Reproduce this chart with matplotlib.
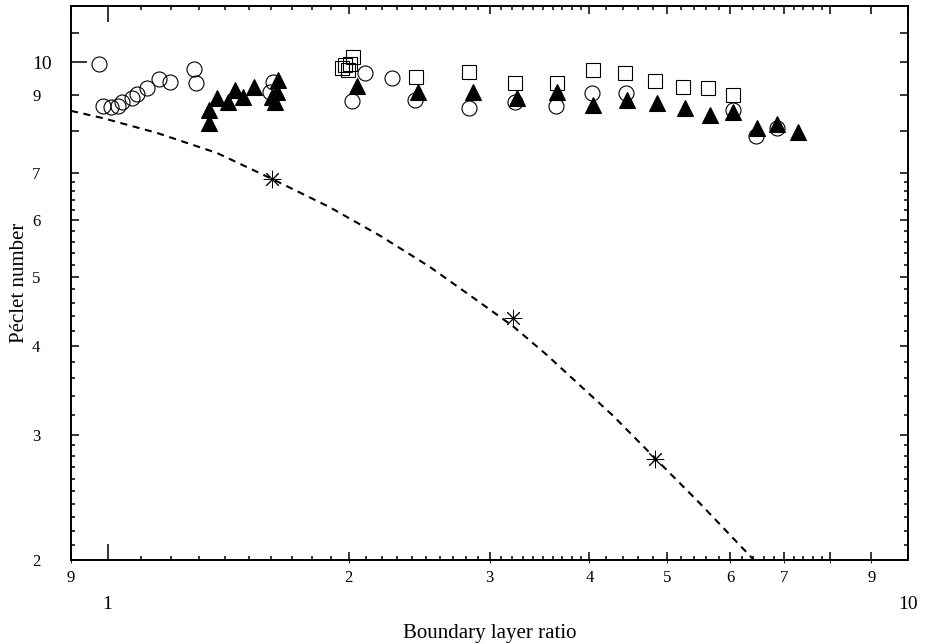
import numpy as np
import matplotlib
matplotlib.use("Agg")
import matplotlib.pyplot as plt

plt.rcParams['font.family'] = ['Liberation Serif', 'DejaVu Serif']

# Open circles
circ_x = [0.976, 0.987, 1.010, 1.031, 1.042, 1.073, 1.088, 1.120, 1.159, 1.196,
          1.282, 1.290, 1.609, 1.596, 2.020, 2.096, 2.266, 2.421, 2.830, 3.228,
          3.632, 4.029, 4.442, 6.04, 6.46, 6.86]
circ_y = [9.95, 8.68, 8.66, 8.68, 8.80, 8.91, 9.03, 9.21, 9.48, 9.38,
          9.79, 9.35, 9.38, 9.09, 8.83, 9.66, 9.51, 8.86, 8.63, 8.80,
          8.68, 9.06, 9.06, 8.57, 7.88, 8.09]

# Open squares
sq_x = [2.025, 1.963, 1.980, 1.997, 2.010, 2.428, 2.830, 3.228, 3.643, 4.040,
        4.43, 4.83, 5.235, 5.625, 6.04]
sq_y = [10.18, 9.82, 9.92, 9.76, 9.95, 9.54, 9.69, 9.35, 9.35, 9.76,
        9.66, 9.42, 9.23, 9.21, 9.00]

# Filled triangles
tri_x = [1.339, 1.339, 1.370, 1.414, 1.443, 1.476, 1.524, 1.605, 1.618, 1.628,
         1.633, 2.050, 2.443, 2.861, 3.246, 3.643, 4.040, 4.455, 4.857, 5.265,
         5.656, 6.04, 6.48, 6.86, 7.28]
tri_y = [8.22, 8.57, 8.91, 8.80, 9.15, 8.94, 9.23, 8.94, 8.80, 9.09,
         9.45, 9.27, 9.09, 9.09, 8.91, 9.09, 8.71, 8.86, 8.77, 8.63,
         8.44, 8.52, 8.09, 8.19, 7.99]

# Asterisks and the dashed curve through them
ast_x = [1.605, 3.21, 4.83]
ast_y = [6.86, 4.38, 2.77]
curve_x = [0.90, 0.987, 1.153, 1.370, 1.605, 1.895, 2.195, 2.528, 2.903, 3.21,
           3.54, 3.89, 4.28, 4.83, 5.50, 6.42]
curve_y = [8.55, 8.35, 7.96, 7.46, 6.86, 6.26, 5.70, 5.16, 4.62, 4.26,
           3.88, 3.52, 3.19, 2.78, 2.40, 2.00]

xticks = [0.9, 1, 2, 3, 4, 5, 6, 7, 8, 9, 10]
xticklabels = ['9', '', '2', '3', '4', '5', '6', '7', '', '9', '']
yticks = [2, 3, 4, 5, 6, 7, 8, 9, 10, 11]
yticklabels = ['2', '3', '4', '5', '6', '7', '', '9', '10', '']

fig = plt.figure(figsize=(9.27, 6.44), dpi=100)
ax = fig.add_axes([0.0766, 0.1304, 0.9029, 0.8602])
ax.set_xscale('log')
ax.set_yscale('log')
ax.set_xlim(0.9, 10)
ax.set_ylim(2, 12)

ax.plot(curve_x, curve_y, color='black', lw=1.5, ls=(0, (3.4, 2.7)))
ax.plot(circ_x, circ_y, 'o', mfc='none', mec='black', ms=10.8, mew=0.8)
ax.plot(sq_x, sq_y, 's', mfc='none', mec='black', ms=10.3, mew=0.8)
ax.plot(tri_x, tri_y, '^', mfc='black', mec='black', ms=11, mew=0.8)
ax.plot(ast_x, ast_y, ls='none', marker=(8, 2, 0), color='black', ms=12.5, mew=0.7)

# ticks
ax.set_xticks(xticks)
ax.set_xticklabels(xticklabels)
ax.set_xticks(list(np.arange(1.1, 4.0, 0.1)) + list(np.arange(4.2, 8.0, 0.2)), minor=True)
ax.set_yticks(yticks)
ax.set_yticklabels(yticklabels)
ax.set_yticks(list(np.arange(2.1, 3.0, 0.1)) + list(np.arange(3.2, 7.0, 0.2)), minor=True)
ax.xaxis.set_minor_formatter(plt.NullFormatter())
ax.yaxis.set_minor_formatter(plt.NullFormatter())

ax.tick_params(which='both', direction='in', top=True, right=True, width=1.1, color='black')
ax.tick_params(which='major', length=5.8)
ax.tick_params(which='minor', length=3.2)
ax.tick_params(axis='x', which='major', labelsize=12, pad=7)
ax.tick_params(axis='y', which='major', labelsize=12, pad=28)
for lab in ax.get_yticklabels():
    lab.set_horizontalalignment('left')
    if lab.get_text() == '10':
        lab.set_fontsize(14)

# longer ticks at x=1 and y=10
xt = ax.xaxis.get_major_ticks()[1]
xt.tick1line.set_markersize(11.5)
xt.tick2line.set_markersize(11.5)
yt = ax.yaxis.get_major_ticks()[8]
yt.tick1line.set_markersize(11.5)

# second row of x labels for the decades
sec = ax.secondary_xaxis('bottom')
sec.set_xticks([1, 10])
sec.set_xticklabels(['1', '10'])
sec.tick_params(length=0, labelsize=14, pad=26)
sec.spines['bottom'].set_visible(False)

for s in ax.spines.values():
    s.set_linewidth(1.4)

ax.set_xlabel('Boundary layer ratio', fontsize=15)
ax.xaxis.set_label_coords(0.5, -0.115)
ax.set_ylabel('Péclet number', fontsize=15)
ax.yaxis.set_label_coords(-0.05, 0.5)

fig.savefig('out.png', dpi=100)
